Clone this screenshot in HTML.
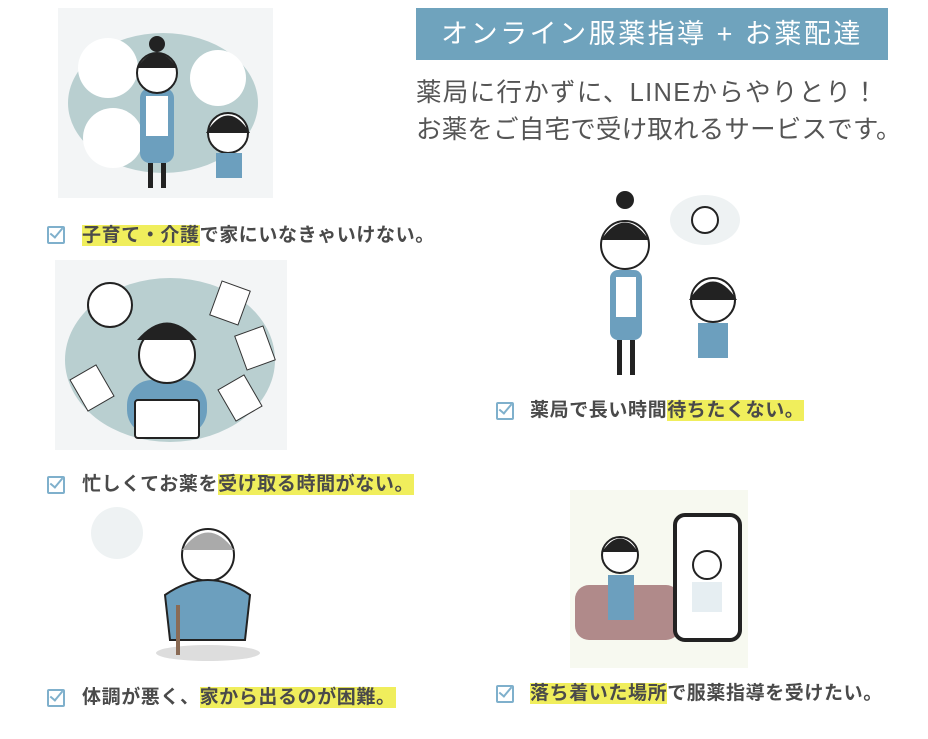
<!DOCTYPE html>
<html><head><meta charset="utf-8"><style>
body{margin:0;width:928px;height:739px;background:#fff;position:relative;overflow:hidden;font-family:"Liberation Sans","Noto Sans CJK JP",sans-serif}
.a{position:absolute}
.hdr{left:416px;top:8px;width:472px;height:52px;background:#6fa3bd;color:#fff;font-size:27px;line-height:52px;text-align:center;letter-spacing:2.5px}
.sub{left:416px;color:#555;font-size:25.5px;letter-spacing:0.5px;white-space:nowrap}
.lab{font-size:19px;font-weight:bold;color:#4a4a4a;white-space:nowrap;line-height:26px;letter-spacing:0.6px}
.hl{background:#f0ee5c}
.chk{width:14px;height:14px;border:2px solid #7fb0cc;border-radius:2px}
.chk:after{content:"";position:absolute;left:4px;top:-3px;width:5px;height:11px;border-right:2px solid #7fb0cc;border-bottom:2px solid #7fb0cc;transform:rotate(40deg)}
svg{position:absolute}
</style></head><body>
<div class="a hdr">オンライン服薬指導 + お薬配達</div>
<div class="a sub" style="top:72px;letter-spacing:1.3px">薬局に行かずに、LINEからやりとり！</div>
<div class="a sub" style="top:109px;letter-spacing:0.2px">お薬をご自宅で受け取れるサービスです。</div>

<svg style="left:58px;top:8px" width="215" height="190"><rect width="215" height="190" fill="#f3f5f6"/>
<ellipse cx="105" cy="95" rx="95" ry="70" fill="#b9cfd0"/>
<circle cx="50" cy="60" r="30" fill="#fff"/><circle cx="160" cy="70" r="28" fill="#fff"/><circle cx="55" cy="130" r="30" fill="#fff"/>
<rect x="82" y="80" width="34" height="75" rx="10" fill="#6c9fbe"/><rect x="88" y="88" width="22" height="40" fill="#fff"/>
<circle cx="99" cy="65" r="20" fill="#fff" stroke="#222" stroke-width="2"/><path d="M79 60 Q99 30 119 60" fill="#222"/><circle cx="99" cy="36" r="8" fill="#222"/>
<rect x="90" y="155" width="5" height="25" fill="#222"/><rect x="103" y="155" width="5" height="25" fill="#222"/>
<circle cx="170" cy="125" r="20" fill="#fff" stroke="#222" stroke-width="2"/><path d="M148 125 Q170 90 192 125" fill="#222"/>
<rect x="158" y="145" width="26" height="25" fill="#6c9fbe"/></svg>
<div class="a chk" style="left:47px;top:226px"></div>
<div class="a lab" style="left:82px;top:223px"><span class="hl">子育て・介護</span>で家にいなきゃいけない。</div>

<svg style="left:55px;top:260px" width="232" height="190"><rect width="232" height="190" fill="#f3f5f6"/>
<ellipse cx="115" cy="100" rx="105" ry="82" fill="#b9cfd0"/>
<circle cx="55" cy="45" r="22" fill="#fff" stroke="#222" stroke-width="2"/>
<rect x="72" y="120" width="80" height="55" rx="25" fill="#6c9fbe"/>
<circle cx="112" cy="95" r="28" fill="#fff" stroke="#222" stroke-width="2"/><path d="M82 80 Q112 45 142 80" fill="#222"/>
<rect x="80" y="140" width="64" height="38" rx="3" fill="#fff" stroke="#222" stroke-width="2"/>
<rect x="160" y="25" width="30" height="36" fill="#fff" stroke="#333" transform="rotate(20 175 43)"/>
<rect x="185" y="70" width="30" height="36" fill="#fff" stroke="#333" transform="rotate(-20 200 88)"/>
<rect x="170" y="120" width="30" height="36" fill="#fff" stroke="#333" transform="rotate(-30 185 138)"/>
<rect x="22" y="110" width="30" height="36" fill="#fff" stroke="#333" transform="rotate(-30 37 128)"/></svg>
<div class="a chk" style="left:47px;top:476px"></div>
<div class="a lab" style="left:82px;top:472px">忙しくてお薬を<span class="hl">受け取る時間がない。</span></div>

<svg style="left:80px;top:505px" width="180" height="160">
<circle cx="37" cy="28" r="26" fill="#eef2f3"/>
<circle cx="128" cy="50" r="26" fill="#fff" stroke="#222" stroke-width="2"/><path d="M102 45 Q128 10 154 45" fill="#aaa"/>
<path d="M85 90 Q128 60 170 90 L165 135 L90 135Z" fill="#6c9fbe" stroke="#222" stroke-width="2"/>
<ellipse cx="128" cy="148" rx="52" ry="8" fill="#ddd"/>
<rect x="96" y="100" width="4" height="50" fill="#8a6b55"/></svg>
<div class="a chk" style="left:47px;top:689px"></div>
<div class="a lab" style="left:82px;top:685px">体調が悪く、<span class="hl">家から出るのが困難。</span></div>

<svg style="left:585px;top:185px" width="175" height="195">
<ellipse cx="120" cy="35" rx="35" ry="25" fill="#eef2f3"/><circle cx="120" cy="35" r="13" fill="#fff" stroke="#222" stroke-width="2"/>
<circle cx="40" cy="60" r="24" fill="#fff" stroke="#222" stroke-width="2"/><path d="M16 55 Q40 20 64 55" fill="#222"/><circle cx="40" cy="15" r="9" fill="#222"/>
<rect x="25" y="85" width="32" height="70" rx="8" fill="#6c9fbe"/><rect x="31" y="92" width="20" height="40" fill="#fff"/>
<rect x="32" y="155" width="5" height="35" fill="#222"/><rect x="45" y="155" width="5" height="35" fill="#222"/>
<circle cx="128" cy="115" r="22" fill="#fff" stroke="#222" stroke-width="2"/><path d="M104 115 Q128 78 152 115" fill="#222"/>
<rect x="113" y="138" width="30" height="35" fill="#6c9fbe"/></svg>
<div class="a chk" style="left:496px;top:402px"></div>
<div class="a lab" style="left:530px;top:398px">薬局で長い時間<span class="hl">待ちたくない。</span></div>

<svg style="left:570px;top:490px" width="178" height="178"><rect width="178" height="178" fill="#f7f9f0"/>
<rect x="5" y="95" width="105" height="55" rx="14" fill="#b08a8a"/>
<circle cx="50" cy="65" r="18" fill="#fff" stroke="#222" stroke-width="2"/><path d="M32 62 Q50 35 68 62" fill="#222"/>
<rect x="38" y="85" width="26" height="45" fill="#6c9fbe"/>
<rect x="105" y="25" width="65" height="125" rx="10" fill="#fff" stroke="#222" stroke-width="4"/>
<circle cx="137" cy="75" r="14" fill="#fff" stroke="#222" stroke-width="2"/><rect x="122" y="92" width="30" height="30" fill="#e6eef2"/></svg>
<div class="a chk" style="left:496px;top:685px"></div>
<div class="a lab" style="left:530px;top:681px"><span class="hl">落ち着いた場所</span>で服薬指導を受けたい。</div>
</body></html>
